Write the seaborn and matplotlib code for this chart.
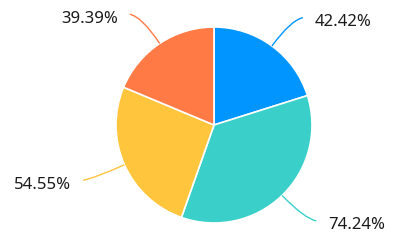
import numpy as np
import matplotlib
matplotlib.use("Agg")
import matplotlib.pyplot as plt
from matplotlib.path import Path
from matplotlib.patches import PathPatch
import seaborn as sns

sns.set_theme(style="white")
plt.rcParams['font.family'] = ['Noto Sans', 'DejaVu Sans']

values = [42.42, 74.24, 54.55, 39.39]
labels = ["42.42%", "74.24%", "54.55%", "39.39%"]
colors = ["#0095FF", "#3AD0C9", "#FFC53D", "#FF7A45"]

W, H = 394, 250
fig = plt.figure(figsize=(W / 100, H / 100), dpi=100)
ax = fig.add_axes([0, 0, 1, 1])

cx, cy, R = 214, 125, 98
wedges, _ = ax.pie(values, colors=colors, startangle=90, counterclock=False,
                   center=(cx, cy), radius=R, frame=True,
                   wedgeprops=dict(edgecolor="white", linewidth=1.2))
ax.set_xlim(0, W)
ax.set_ylim(0, H)
ax.set_aspect("equal")
ax.axis("off")

total = sum(values)
start = 0.0
for v, lab, col in zip(values, labels, colors):
    span = v / total * 360
    mid = np.deg2rad(start + span / 2)  # clockwise from top
    start += span
    sx, sy = np.sin(mid), np.cos(mid)
    p0 = (cx + R * sx, cy + R * sy)
    p1 = (cx + (R + 32) * sx, cy + (R + 32) * sy)
    side = 1 if sx > 0 else -1
    p2 = (p1[0] + side * 12, p1[1] + (2.5 if sy > 0 else -2.5))
    path = Path([p0, p1, p2], [Path.MOVETO, Path.CURVE3, Path.CURVE3])
    ax.add_patch(PathPatch(path, facecolor="none", edgecolor=col, lw=1.0))
    ax.text(p2[0] + side * 12, p2[1] - 4.5, lab,
            ha="left" if side > 0 else "right", va="center",
            fontsize=12, color="#1a1a1a")

fig.savefig("out.png", dpi=100)
